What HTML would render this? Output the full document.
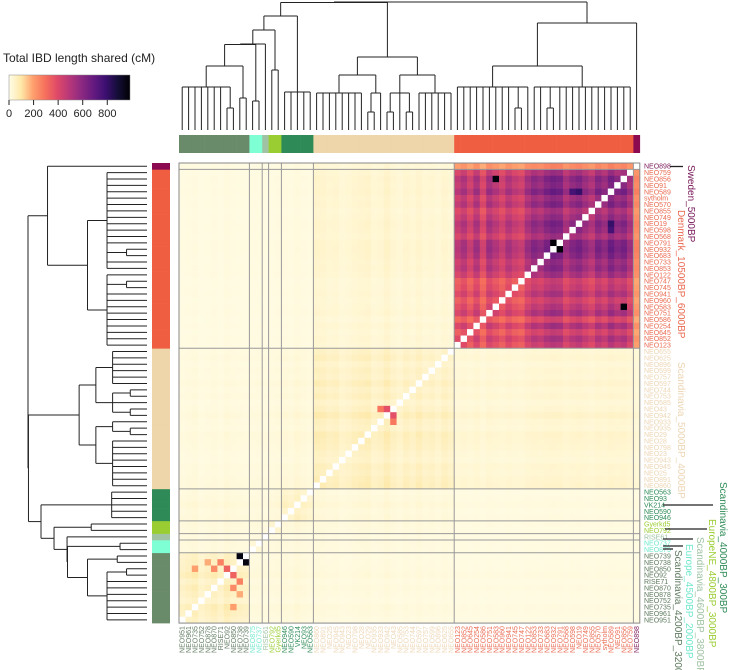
<!DOCTYPE html>
<html><head><meta charset="utf-8"><style>
html,body{margin:0;padding:0;background:#fff;}
svg{display:block;font-family:"Liberation Sans",sans-serif;}
</style></head><body>
<svg id="chart" width="729" height="670" viewBox="0 0 729 670" xmlns="http://www.w3.org/2000/svg">
<defs><linearGradient id="lg" x1="0" x2="1" y1="0" y2="0">
<stop offset="0" stop-color="#fffde8"/><stop offset="0.1" stop-color="#fee8a8"/><stop offset="0.2" stop-color="#fe9f6d"/><stop offset="0.3" stop-color="#f7705c"/><stop offset="0.4" stop-color="#de4968"/><stop offset="0.5" stop-color="#b73779"/><stop offset="0.6" stop-color="#8c2981"/><stop offset="0.7" stop-color="#641a80"/><stop offset="0.8" stop-color="#3b0f70"/><stop offset="0.9" stop-color="#140e36"/><stop offset="1" stop-color="#000004"/>
</linearGradient></defs>
<g>
<text x="3" y="62" font-size="12" fill="#222">Total IBD length shared (cM)</text>
<rect x="9" y="75" width="121" height="25" fill="url(#lg)" stroke="#888" stroke-width="0.5"/>
<g id="legticks"></g>
</g>
<g id="topdend"></g>
<g id="leftdend"></g>
<g id="colbar"></g>
<g id="rowbar"></g>
<g id="cells"></g>
<g id="seps"></g>
<g id="rowlabs"></g>
<g id="collabs"></g>
<g id="grouplabs"></g>
</svg>
<script>
const colNames = ["NEO951","NEO961","NEO735","NEO752","NEO878","NEO870","RISE71","NEO92","NEO850","NEO738","NEO739","NEO875","NEO737","RISE61","NEO792","Gyerkd5","NEO946","NEO590","VK214","NEO93","NEO563",
"NEO860","NEO891","NEO25","NEO945","NEO943","NEO23","NEO798","NEO28","NEO29","NEO935","NEO933","NEO942","NEO43","NEO585","NEO753","NEO744","NEO597","NEO757","NEO599","NEO896","NEO625","NEO655",
"NEO123","NEO852","NEO645","NEO254","NEO586","NEO751","NEO583","NEO960","NEO941","NEO745","NEO747","NEO122","NEO853","NEO733","NEO683","NEO932","NEO791","NEO568","NEO598","NEO19","NEO749","NEO855","NEO570","sytholm","NEO589","NEO91","NEO856","NEO759","NEO898"];
const groupSizes = [11,2,1,2,5,22,12,16,1];
const groupColors = ["#698b69","#7fffd4","#9fc3a3","#9acd32","#2e8b57","#eed5aa","#ef5e41","#ef5e41","#8b0a50"];
const labelColors = ["#5f7a5f","#6fe8cc","#9fc3a3","#9acd32","#2e8b57","#edd6b4","#ea6a50","#ea6a50","#7a1a5a"];
const blockMeans = [
 [50,15,15,15,18,14,10,10,10],
 [15,25,15,15,15,14,10,10,10],
 [15,15,0,15,15,14,10,10,10],
 [15,15,15,30,20,15,10,10,10],
 [18,15,15,20,45,20,12,12,12],
 [14,14,14,15,20,50,28,32,25],
 [10,10,10,10,12,28,390,450,210],
 [10,10,10,10,12,32,450,520,230],
 [10,10,10,10,12,25,210,230,0]];
const indivFactor = [0.9,1.1,1.3,0.8,1.0,1.2,0.9,1.4,1.1,1.0,0.9,1.0,1.1,0.9,1.0,1.2,1.1,0.9,1.3,1.0,0.8,
 1.3,1.2,1.0,1.1,0.8,0.9,1.1,1.2,1.3,0.9,1.0,1.4,1.0,0.8,1.1,0.9,1.2,0.9,1.0,0.8,1.1,0.9,
 0.95,1.05,0.9,1.08,0.85,1.1,1.0,0.9,1.05,0.95,0.9,1.1,1.05,1.0,1.1,1.15,1.12,0.95,1.05,1.1,1.0,0.92,1.08,1.0,1.15,1.05,1.1,0.95,1.0];
const hotspots = [[69,49,970],[58,59,980],[67,62,800],[67,61,760],[9,10,960],[32,33,380],[31,33,280],[7,8,330],[5,8,240],[6,9,260],[2,8,200],[4,9,180]];
const legendTicks = [0,200,400,600,800];
const legendMax = 985;

const NS="http://www.w3.org/2000/svg";
const N=colNames.length, X0=179, Y0=163, CW=6.4, CH=6.39;
function mk(tag,attrs,parent){const e=document.createElementNS(NS,tag);for(const k in attrs)e.setAttribute(k,attrs[k]);parent.appendChild(e);return e;}
const colX = i => X0 + i*CW;
const rowY = r => Y0 + r*CH;
const rowOf = k => N-1-k;
const groupOf=[];groupSizes.forEach((s,g)=>{for(let i=0;i<s;i++)groupOf.push(g);});
const starts=[];{let a=0;groupSizes.forEach(s=>{starts.push(a);a+=s;});}
const stops=["#fffde8","#fee8a8","#fe9f6d","#f7705c","#de4968","#b73779","#8c2981","#641a80","#3b0f70","#140e36","#000004"];
function hex(h){return [1,3,5].map(i=>parseInt(h.substr(i,2),16));}
function colorOf(v){let t=Math.max(0,Math.min(1,v/legendMax))*10;const i=Math.min(9,Math.floor(t)),f=t-i;const a=hex(stops[i]),b=hex(stops[i+1]);return "rgb("+a.map((x,j)=>Math.round(x+(b[j]-x)*f)).join(",")+")";}
const val=[];
for(let i=0;i<N;i++){val.push([]);for(let j=0;j<N;j++){val[i].push(i===j?-1:blockMeans[groupOf[i]][groupOf[j]]*indivFactor[i]*indivFactor[j]);}}
hotspots.forEach(([a,b,v])=>{val[a][b]=v;val[b][a]=v;});

const lt=document.getElementById('legticks');
legendTicks.forEach(t=>{const x=9+t/legendMax*121;
 const l=mk('line',{x1:x,x2:x,y1:100,y2:105,stroke:'#222'},lt);
 
 const tx=mk('text',{x:x,y:117,'font-size':11,'text-anchor':'middle',fill:'#222'},lt);tx.textContent=t;
 });

const cg=document.getElementById('cells');
for(let r=0;r<N;r++){const i=N-1-r;for(let j=0;j<N;j++){const v=val[i][j];
 const c=mk('rect',{x:colX(j).toFixed(2),y:rowY(r).toFixed(2),width:CW+0.3,height:CH+0.3,fill:v<0?'#ffffff':colorOf(v)},cg);
 }}
const sg=document.getElementById('seps');
starts.slice(1).forEach((s,gi)=>{if(gi===6)return;const x=colX(s),y=rowY(N-s);
 const a=mk('line',{x1:x,x2:x,y1:Y0,y2:Y0+N*CH,stroke:'#999','stroke-width':1},sg);
 const b=mk('line',{x1:X0,x2:X0+N*CW,y1:y,y2:y,stroke:'#999','stroke-width':1},sg);});
const bd=mk('rect',{x:X0,y:Y0,width:N*CW,height:N*CH,fill:'none',stroke:'#888','stroke-width':1},sg);

const cb=document.getElementById('colbar'),rb=document.getElementById('rowbar');
for(let k=0;k<N;k++){const c=groupColors[groupOf[k]];
 const a=mk('rect',{x:colX(k),y:135,width:CW+0.3,height:18,fill:c},cb);
 const b=mk('rect',{x:152,y:rowY(rowOf(k)),width:18,height:CH+0.3,fill:c},rb);}
const rl=document.getElementById('rowlabs'),cl=document.getElementById('collabs');
for(let k=0;k<N;k++){const col=labelColors[groupOf[k]];
 const t=mk('text',{x:644,y:(rowY(rowOf(k))+CH/2+2.5).toFixed(1),'font-size':7,fill:col},rl);t.textContent=colNames[k];
 
 const cx=colX(k)+CW/2+2.5,cy=Y0+N*CH+3;
 const u=mk('text',{x:cx.toFixed(1),y:cy,'font-size':7,fill:col,'text-anchor':'end',transform:`rotate(-90 ${cx.toFixed(1)} ${cy})`},cl);u.textContent=colNames[k];
 }
const range=(a,b)=>{const r=[];for(let i=a;i<=b;i++)r.push(i);return r;};
const S4200=[66,[87,...range(0,6),[108,7,8]],[98,9,10]];
const L=[16,[30,[44,[44.5,S4200,[101,11,12]],13],[70,14,15]],[92,...range(16,20)]];
const P=[57,[75,[93,...range(21,28)],[93,[112,29,30],31]],[75,[93,[112,32,33],34,[112,35,36]],[93,...range(37,42)]]];
const R=[23,[66,[87,...range(43,51),[108,52,53],54],[87,55,56,[108,57,58],...range(59,70)]],71];
const tree=[2,[2.5,L,P],R];
const LEAFH=130;
function draw(node,g,pt){
 if(typeof node==='number')return [node+0.5,LEAFH];
 const h=node[0],ch=node.slice(1).map(c=>draw(c,g,pt));
 ch.forEach(([p,hh])=>{const a=pt(p,hh),b=pt(p,h);const l=mk('line',{x1:a[0],y1:a[1],x2:b[0],y2:b[1],stroke:'#222','stroke-width':1},g);});
 const p0=ch[0][0],p1=ch[ch.length-1][0];const a=pt(p0,h),b=pt(p1,h);
 const l=mk('line',{x1:a[0],y1:a[1],x2:b[0],y2:b[1],stroke:'#222','stroke-width':1},g);
 return [(p0+p1)/2,h];}
draw(tree,document.getElementById('topdend'),(p,h)=>[X0+p*CW,h]);
draw(tree,document.getElementById('leftdend'),(p,h)=>[28+(h-2)*(147-28)/128, Y0+(N-p)*CH]);
const gl=document.getElementById('grouplabs');
const glabs=[["Sweden_5000BP","#7a1a5a",688,165,[[670,683,166.5]]],["Denmark_10500BP_6000BP","#ea6a50",678,210,[]],["Scandinavia_5000BP_4000BP","#edd6b4",678,362,[]],
 ["Scandinavia_4000BP_300BP","#2e8b57",720,482,[[663,713,505]]],["EuropeNE_4800BP_3000BP","#9acd32",709,519,[[665,707,529]]],["Scandinavia_4600BP_3800BP","#9fc3a3",697,537,[[663,693,539]]],
 ["Europe_4500BP_2000BP","#6fe8cc",686,544,[[663,683,546]]],["Scandinavia_4200BP_3200BP","#5f7a5f",675,550,[[663,673,549]]]];
glabs.forEach(([t,c,x,y,ls])=>{ls.forEach(([a,b,yy])=>{const l=mk('line',{x1:a,x2:b,y1:yy,y2:yy,stroke:'#222','stroke-width':1.3},gl);});
 const e=mk('text',{x:x,y:y,'font-size':10,fill:c,transform:`rotate(90 ${x} ${y})`},gl);e.textContent=t;
 });
</script>
</body></html>
